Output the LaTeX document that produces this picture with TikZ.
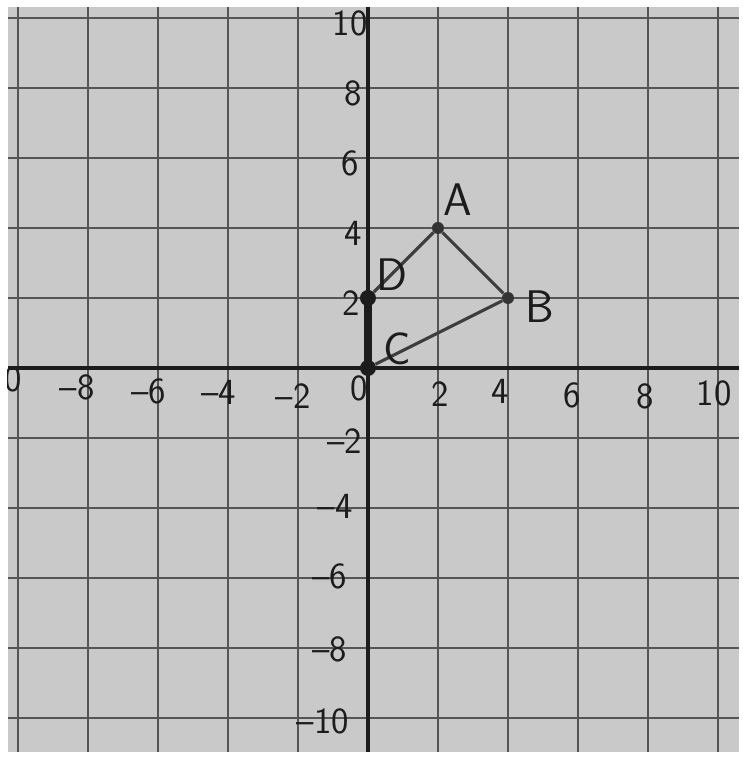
\documentclass[tikz,border=0pt]{standalone}
\usepackage{tikz}
\usetikzlibrary{positioning}
\usepackage{xcolor}
\definecolor{Paper}{HTML}{C9C9C9}
\definecolor{Pencil}{HTML}{555555}
\definecolor{Ink}{HTML}{1C1C1C}

\begin{document}
\begin{tikzpicture}[
    x=0.7cm, y=0.7cm,
    gridline/.style={draw=Pencil, line width=1.2pt},
    axis/.style={draw=Ink, line width=2.2pt},
    side/.style={draw=Ink!85, line width=1.8pt},
    heavy/.style={draw=Ink, line width=4pt},
    bigdot/.style={circle, fill=Ink, inner sep=0pt, minimum size=0.32cm},
    smalldot/.style={circle, fill=Ink!90, inner sep=0pt, minimum size=0.24cm},
    tick/.style={font=\sffamily\fontsize{21}{24}\selectfont, text=Ink, inner sep=0pt},
    vertex/.style={font=\sffamily\fontsize{26}{29}\selectfont, text=Ink, inner sep=0pt}
]
\useasboundingbox (-10.514,-11.229) rectangle (10.714,10.514);
\clip (-10.29,-10.97) rectangle (10.6,10.3);

% Paper
\fill[Paper] (-10.29,-10.97) rectangle (10.6,10.3);

% Grid
\draw[gridline, step=2] (-10.29,-10.97) grid (10.6,10.3);

% Axes
\draw[axis] (-10.29,0) -- (10.6,0);
\draw[axis] (0,-10.97) -- (0,10.3);

% Points
\node[smalldot] (A) at (2,4) {};
\node[smalldot] (B) at (4,2) {};
\node[bigdot] (C) at (0,0) {};
\node[bigdot] (D) at (0,2) {};

% Sides
\draw[side] (D) -- (A);
\draw[side] (A) -- (B);
\draw[side] (B) -- (C);
\draw[heavy] (C.center) -- (D.center);

% Point labels
\node[vertex] (labA) at (2.57,4.8) {A};
\node[vertex] (labB) at (4.91,1.74) {B};
\node[vertex] (labC) at (0.83,0.55) {C};
\node[vertex] (labD) at (0.69,2.66) {D};

% x-axis labels
\node[tick] (xm10) at (-10.14,-0.34) {0};
\node[tick] (xm8) at (-8.31,-0.56) {--8};
\node[tick] (xm6) at (-6.26,-0.68) {--6};
\node[tick] (xm4) at (-4.26,-0.7) {--4};
\node[tick] (xm2) at (-2.14,-0.8) {--2};
\node[tick] (x0) at (-0.26,-0.57) {0};
\node[tick] (x2) at (2.06,-0.74) {2};
\node[tick] (x4) at (3.78,-0.66) {4};
\node[tick] (x6) at (5.82,-0.77) {6};
\node[tick] (x8) at (7.91,-0.8) {8};
\node[tick] (x10) at (9.89,-0.72) {10};

% y-axis labels
\node[tick] (y10) at (-0.51,9.85) {10};
\node[tick] (y8) at (-0.43,7.85) {8};
\node[tick] (y6) at (-0.51,5.85) {6};
\node[tick] (y4) at (-0.43,3.85) {4};
\node[tick] (y2) at (-0.49,1.85) {2};
\node[tick] (ym2) at (-0.66,-2.1) {--2};
\node[tick] (ym4) at (-0.94,-3.95) {--4};
\node[tick] (ym6) at (-1.09,-5.95) {--6};
\node[tick] (ym8) at (-1.09,-8.05) {--8};
\node[tick] (ym10) at (-1.29,-10.1) {--10};

\end{tikzpicture}
\end{document}
